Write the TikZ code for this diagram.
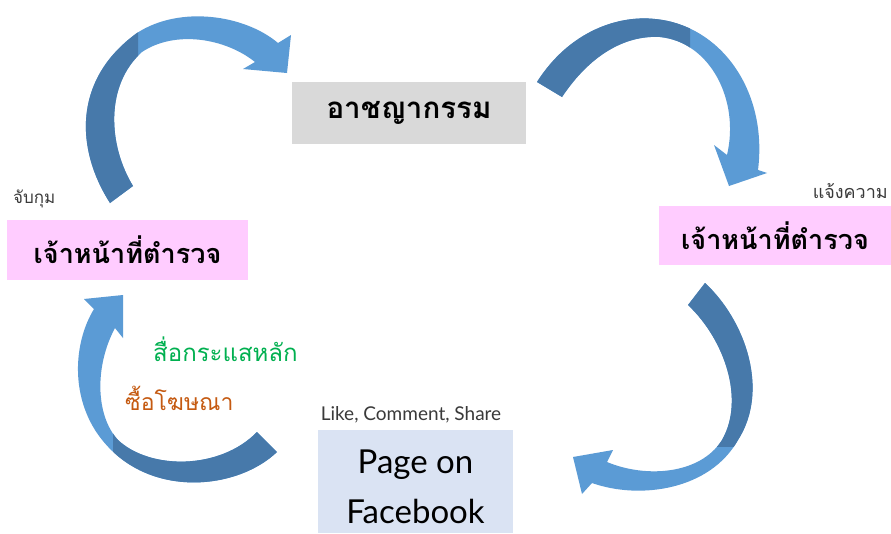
\documentclass[tikz,border=0pt]{standalone}
\usepackage{fontspec}
\setmainfont{Lato}
\newfontfamily\thai[Script=Thai]{Loma}
\definecolor{arrdark}{HTML}{4779AA}
\definecolor{arrlight}{HTML}{5B9BD5}
\definecolor{crimegray}{HTML}{D9D9D9}
\definecolor{policepink}{HTML}{FFCCFF}
\definecolor{fbblue}{HTML}{DAE3F3}
\definecolor{mediagreen}{HTML}{00B050}
\definecolor{adorange}{HTML}{C55A11}
\definecolor{labelgray}{HTML}{3A3A3A}
\tikzset{
  boxbase/.style={inner sep=0pt, outer sep=0pt, draw=none},
  bigthai/.style={font=\thai\bfseries\fontsize{27}{30}\selectfont, text=black},
  smalllabel/.style={font=\thai\fontsize{17}{20}\selectfont, text=labelgray, inner sep=0pt},
  colorlabel/.style={font=\thai\fontsize{24}{28}\selectfont, inner sep=0pt},
}
\begin{document}
\begin{tikzpicture}[x=1pt,y=-1pt]
\useasboundingbox (0,0) rectangle (891,533);
\fill[white] (0,0) rectangle (891,533);

% boxes
\node[boxbase, fill=crimegray, minimum width=234pt, minimum height=62pt, bigthai, font=\thai\bfseries\fontsize{29.5}{32}\selectfont] (crime) at (409,113) {อาชญากรรม};
\node[boxbase, fill=policepink, minimum width=241pt, minimum height=60pt, bigthai] (policeL) at (127.5,250) {เจ้าหน้าที่ตำรวจ};
\node[boxbase, fill=policepink, minimum width=232pt, minimum height=59pt, bigthai] (policeR) at (775,235.5) {เจ้าหน้าที่ตำรวจ};
\node[boxbase, fill=fbblue, minimum width=195pt, minimum height=103pt] (fb) at (415.5,481.5) {};
\node[inner sep=0pt, align=center, font=\fontsize{33}{50}\selectfont] (fbtext) at (415.5,487) {Page on\\Facebook};

% labels
\node[smalllabel, anchor=base west] (arrest) at (13,203) {จับกุม};
\node[smalllabel, anchor=base east, font=\thai\fontsize{18}{20}\selectfont] (report) at (888,198) {แจ้งความ};
\node[inner sep=0pt, anchor=base, font=\fontsize{19}{22}\selectfont, text=labelgray] (lcs) at (411,420) {Like, Comment, Share};
\node[colorlabel, text=mediagreen, anchor=base west] (media) at (153,361) {สื่อกระแสหลัก};
\node[colorlabel, text=adorange, anchor=base west, font=\thai\fontsize{23}{26}\selectfont] (ads) at (125,410) {ซื้อโฆษณา};

% arrow 1 (police left -> crime)
\fill[arrlight] (110,203) .. controls (76,150) and (72,80) .. (137,33) .. controls (180,5) and (245,15) .. (278,43) -- (291,35) -- (287,73) -- (243,69) -- (255,62) .. controls (225,38) and (175,30) .. (142,52) .. controls (105,85) and (108,145) .. (133,186) -- cycle;
\begin{scope}
\clip (0,0) rectangle (138,533);
\fill[arrdark] (110,203) .. controls (76,150) and (72,80) .. (137,33) .. controls (180,5) and (245,15) .. (278,43) -- (291,35) -- (287,73) -- (243,69) -- (255,62) .. controls (225,38) and (175,30) .. (142,52) .. controls (105,85) and (108,145) .. (133,186) -- cycle;
\end{scope}

% arrow 2 (crime -> police right)
\fill[arrlight] (537,82) .. controls (570,30) and (620,15) .. (655,19) .. controls (720,25) and (768,90) .. (758,170) -- (767,173) -- (729,186) -- (714,145) -- (727,155) .. controls (740,100) and (710,42) .. (660,37) .. controls (625,35) and (590,55) .. (562,97) -- cycle;
\begin{scope}
\clip (0,0) rectangle (690,533);
\fill[arrdark] (537,82) .. controls (570,30) and (620,15) .. (655,19) .. controls (720,25) and (768,90) .. (758,170) -- (767,173) -- (729,186) -- (714,145) -- (727,155) .. controls (740,100) and (710,42) .. (660,37) .. controls (625,35) and (590,55) .. (562,97) -- cycle;
\end{scope}

% arrow 3 (police right -> facebook)
\fill[arrlight] (705,283) .. controls (745,320) and (770,390) .. (738,440) .. controls (710,490) and (640,500) .. (592,483) -- (582,494) -- (573,457) -- (613,450) -- (607,462) .. controls (645,478) and (700,475) .. (722,440) .. controls (745,400) and (725,340) .. (688,305) -- cycle;
\begin{scope}
\clip (0,0) rectangle (891,446);
\fill[arrdark] (705,283) .. controls (745,320) and (770,390) .. (738,440) .. controls (710,490) and (640,500) .. (592,483) -- (582,494) -- (573,457) -- (613,450) -- (607,462) .. controls (645,478) and (700,475) .. (722,440) .. controls (745,400) and (725,340) .. (688,305) -- cycle;
\end{scope}

% arrow 4 (facebook -> police left)
\fill[arrlight] (277,452) .. controls (235,492) and (140,500) .. (95,430) .. controls (70,390) and (75,340) .. (94,309) -- (84,299) -- (123,295) -- (123,338) -- (115,328) .. controls (95,365) and (95,415) .. (118,440) .. controls (150,470) and (220,470) .. (257,432) -- cycle;
\begin{scope}
\clip (113,420) rectangle (891,533);
\fill[arrdark] (277,452) .. controls (235,492) and (140,500) .. (95,430) .. controls (70,390) and (75,340) .. (94,309) -- (84,299) -- (123,295) -- (123,338) -- (115,328) .. controls (95,365) and (95,415) .. (118,440) .. controls (150,470) and (220,470) .. (257,432) -- cycle;
\end{scope}
\end{tikzpicture}
\end{document}
